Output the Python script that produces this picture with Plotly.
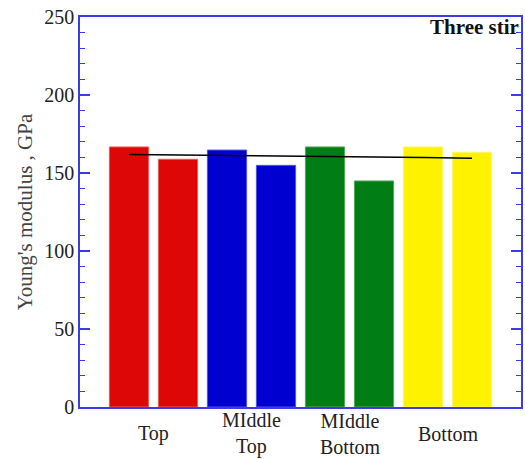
import plotly.graph_objects as go

# Young's modulus of each sample (two specimens per position)
positions = ["Top", "MIddle<br>Top", "MIddle<br>Bottom", "Bottom"]
modulus = [166.7, 158.8, 164.7, 154.9, 166.7, 144.9, 166.7, 163.3]
trend = [161.9, 161.6, 161.3, 161.1, 160.8, 160.4, 160.0, 159.4]
bar_colors = ["#dd0707", "#dd0707", "#0000d0", "#0000d0",
              "#007d14", "#007d14", "#fff200", "#fff200"]
edge_colors = ["#ec5a5a", "#ec5a5a", "#4f4fe6", "#4f4fe6",
               "#4fa85a", "#4fa85a", "#fff76a", "#fff76a"]

xs = list(range(1, len(modulus) + 1))
group_centers = [1.5, 3.5, 5.5, 7.5]

fig = go.Figure()
fig.add_trace(go.Bar(
    x=xs, y=modulus, width=0.8,
    marker=dict(color=bar_colors, line=dict(color=edge_colors, width=1)),
    showlegend=False,
))
fig.add_trace(go.Scatter(
    x=xs, y=trend, mode="lines",
    line=dict(color="black", width=1.5),
    showlegend=False,
))

serif = "Liberation Serif, Times New Roman, serif"
axis_blue = "#3c3ce6"

for xc, label in zip(group_centers, positions):
    fig.add_annotation(
        x=xc, xref="x", y=-0.068, yref="paper",
        text=label, showarrow=False, yanchor="middle",
        font=dict(family=serif, size=20, color="#222"),
    )

fig.add_annotation(
    x=1.0, xref="paper", y=0.975, yref="paper", xanchor="right", yanchor="middle",
    text="<b>Three stir</b>", showarrow=False,
    font=dict(family=serif, size=21, color="#111"),
)

fig.update_layout(
    width=525, height=459,
    margin=dict(l=80, r=2, t=17, b=52),
    plot_bgcolor="white", paper_bgcolor="white",
    bargap=0.2,
)
fig.update_xaxes(
    range=[0, 9], showticklabels=False, ticks="", showgrid=False,
    zeroline=False, showline=True, linecolor=axis_blue, linewidth=2, mirror=True,
)
fig.update_yaxes(
    range=[0, 250], dtick=50, showgrid=False, zeroline=False,
    showline=True, linecolor=axis_blue, linewidth=1.5, mirror="ticks",
    ticks="inside", ticklen=10, tickcolor=axis_blue, tickwidth=1.5,
    minor=dict(dtick=10, ticks="inside", ticklen=5, tickcolor=axis_blue, tickwidth=1),
    tickfont=dict(family=serif, size=20, color="#222"),
    title=dict(text="Young's modulus , GPa", standoff=6,
               font=dict(family=serif, size=21, color="#444")),
)

fig.write_html("out.html")
